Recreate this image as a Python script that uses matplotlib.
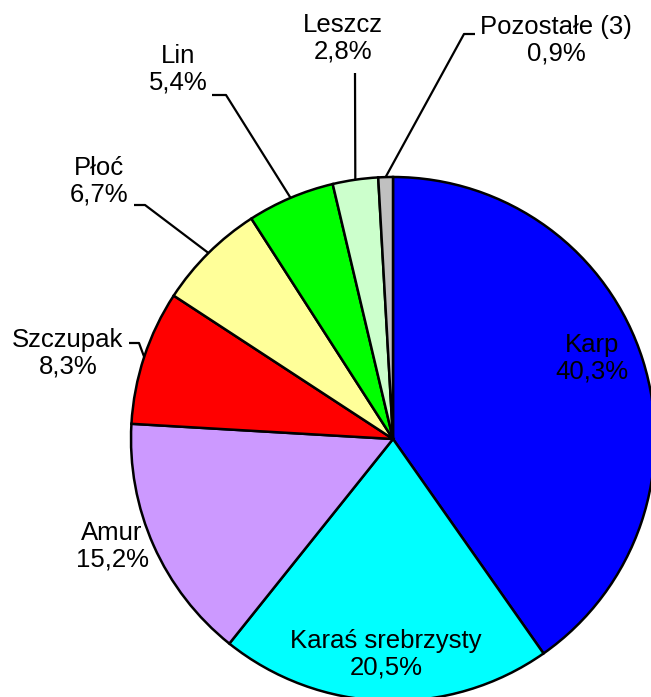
import numpy as np
import matplotlib.pyplot as plt

plt.rcParams['font.family'] = ['Liberation Sans', 'DejaVu Sans']

labels = ['Karp', 'Karaś srebrzysty', 'Amur', 'Szczupak', 'Płoć', 'Lin', 'Leszcz', 'Pozostałe (3)']
shares = [40.3, 20.5, 15.2, 8.3, 6.7, 5.4, 2.8, 0.9]
colors = ['#0000FF', '#00FFFF', '#CC99FF', '#FF0000', '#FFFF99', '#00FF00', '#CCFFCC', '#C0C0C0']

W, H = 651, 697
cx, cy, R = 393, H - 439, 262

# label block centres (pixel coords, y up) and leader elbows (None = label inside)
label_pos = [(592, H - 358), (386, H - 654), (112, H - 546), (68, H - 353),
             (99, H - 181), (178, H - 69), (343, H - 38), (556, H - 40)]
elbows = [None, None, None,
          [(139, H - 343), (129, H - 343)],
          [(145, H - 205), (134, H - 205)],
          [(226, H - 95), (212, H - 95)],
          [(355, H - 73)],
          [(464, H - 34), (475, H - 34)]]

fig = plt.figure(figsize=(W / 100, H / 100), dpi=100)
ax = fig.add_axes([0, 0, 1, 1])
ax.pie(shares, colors=colors, startangle=90, counterclock=False,
       center=(cx, cy), radius=R,
       wedgeprops={'edgecolor': 'black', 'linewidth': 1.8})

total = sum(shares)
start = 90.0
for lab, val, pos, elb in zip(labels, shares, label_pos, elbows):
    mid = np.deg2rad(start - val / total * 360 / 2)
    start -= val / total * 360
    txt = f'{lab}\n{val:.1f}%'.replace('.', ',')
    ax.text(pos[0], pos[1], txt, ha='center', va='center', fontsize=18.5,
            linespacing=1.12, color='black')
    if elb is not None:
        ax_x = cx + R * np.cos(mid)
        ax_y = cy + R * np.sin(mid)
        xs = [ax_x] + [p[0] for p in elb]
        ys = [ax_y] + [p[1] for p in elb]
        ax.plot(xs, ys, color='black', linewidth=1.6, solid_capstyle='butt')

ax.set_xlim(0, W)
ax.set_ylim(0, H)
ax.set_aspect('equal')
ax.axis('off')
fig.savefig('out.png', dpi=100)
